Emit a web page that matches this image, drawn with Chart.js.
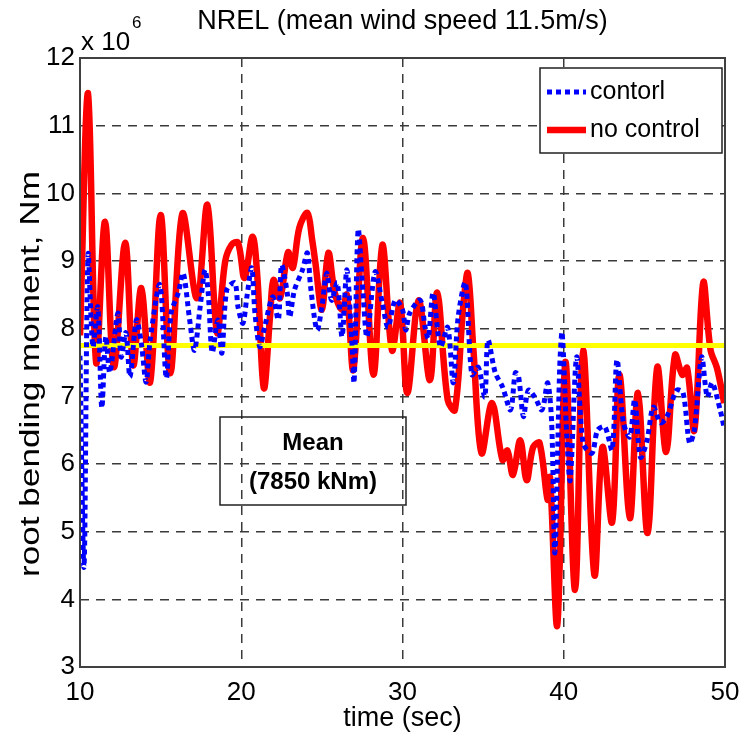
<!DOCTYPE html>
<html>
<head>
<meta charset="utf-8">
<script src="https://cdn.jsdelivr.net/npm/chart.js@4.4.1/dist/chart.umd.min.js"></script>
<style>
  html, body { margin: 0; padding: 0; background: #fff; }
  #wrap { width: 740px; height: 743px; }
</style>
</head>
<body>
<div id="wrap"><canvas id="chart" width="740" height="743"></canvas></div>
<script>
// values (time in sec, moment in 1e6 Nm)
const redTime = [10.0, 10.5, 11.0, 11.55, 12.1, 12.8, 13.3, 13.8, 14.35, 15.0, 15.6, 16.35,
    17.25, 17.9, 18.5, 19.0, 19.4, 19.8, 20.2, 20.7, 21.0, 21.4, 21.8, 22.0, 22.4, 22.9,
    23.2, 23.6, 24.1, 24.4, 24.6, 25.0, 25.4, 25.8, 26.25, 26.55, 26.95, 27.55, 28.2, 28.75,
    29.35, 29.85, 30.3, 31.0, 31.7, 32.15, 32.8, 33.25, 33.75, 34.05, 34.4, 34.9, 35.55,
    36.2, 36.5, 36.85, 37.3, 37.7, 38.1, 38.5, 39.0, 39.15, 39.6, 40.1, 40.7, 41.2, 41.9,
    42.4, 43.0, 43.45, 44.1, 44.6, 45.2, 45.8, 46.35, 46.9, 47.35, 47.65, 48.1, 48.65,
    49.1, 49.5, 49.95];
const redValue = [7.9, 11.48, 7.5, 9.58, 7.43, 9.27, 7.46, 8.6, 7.21, 9.68, 7.34, 9.7,
    8.45, 9.83, 7.94, 8.99, 9.24, 9.27, 8.75, 9.36, 8.76, 7.12, 8.23, 8.72, 8.45, 9.13,
    8.9, 9.49, 9.71, 9.31, 8.97, 8.28, 9.12, 8.53, 8.28, 8.5, 7.39, 9.34, 7.32, 9.24,
    7.68, 8.38, 7.05, 8.42, 7.24, 8.53, 6.95, 6.8, 8.28, 8.82, 7.68, 6.16, 6.9,
    6.06, 6.2, 5.84, 6.35, 5.76, 6.25, 6.31, 5.47, 5.8, 3.62, 7.51, 4.14, 7.68, 4.36,
    6.25, 5.14, 7.32, 5.2, 7.05, 4.98, 7.43, 6.18, 7.61, 7.32, 7.42, 6.5, 8.68,
    7.69, 7.42, 6.9];

const blueTime = [10.0, 10.25, 10.5, 10.8, 11.1, 11.35, 11.6, 11.85, 12.35, 12.55, 12.85,
    13.1, 13.5, 13.8, 14.1, 14.35, 14.95, 15.35, 15.65, 16.1, 16.4, 16.8, 17.1, 17.45,
    17.75, 17.95, 18.2, 18.55, 18.8, 19.1, 19.6, 19.8, 20.1, 20.35, 20.65, 20.85, 21.15,
    21.45, 21.95, 22.3, 22.5, 22.85, 23.0, 23.3, 23.8, 24.1, 24.3, 24.7, 25.0, 25.3, 25.6,
    25.95, 26.25, 26.55, 26.85, 27.0, 27.25, 27.55, 27.8, 28.3, 28.75, 29.1, 29.55, 30.0,
    30.2, 30.45, 31.1, 31.4, 31.6, 31.9, 32.35, 32.8, 33.15, 33.45, 33.9, 34.3, 34.7,
    35.1, 35.3, 35.75, 36.2, 36.7, 37.0, 37.2, 37.5, 37.8, 38.2, 38.65, 39.0, 39.25,
    39.45, 39.75, 39.9, 40.2, 40.4, 40.8, 41.2, 41.75, 42.1, 42.55, 43.0, 43.3, 43.7,
    44.1, 44.4, 44.75, 45.15, 45.55, 46.0, 46.4, 47.0, 47.4, 47.8, 48.1, 48.55, 48.9,
    49.2, 49.7, 49.95];
const blueValue = [7.6, 4.48, 9.09, 7.73, 8.32, 6.83, 7.88, 7.35, 8.23, 7.58, 7.94,
    7.29, 8.13, 7.79, 7.21, 7.83, 8.65, 7.27, 8.23, 8.53, 8.82, 8.13, 7.68, 8.32,
    8.87, 8.53, 7.65, 8.13, 7.64, 8.57, 8.68, 8.32, 8.08, 8.47, 8.9, 8.23, 7.73,
    8.02, 8.47, 8.13, 8.94, 8.53, 8.17, 8.57, 8.87, 9.12, 8.62, 7.98, 8.32, 8.82, 8.42,
    8.68, 7.88, 8.87, 7.83, 7.21, 9.46, 8.53, 7.88, 8.84, 8.38, 8.02, 8.42, 8.28,
    7.98, 8.23, 8.42, 8.02, 7.86, 8.53, 7.73, 8.02, 7.2, 8.17, 8.68, 7.32, 7.43,
    6.99, 7.83, 7.35, 7.14, 6.8, 7.35, 7.29, 6.7, 7.09, 6.99, 6.8, 7.2, 6.61,
    4.69, 7.43, 7.94, 6.36, 5.76, 7.58, 6.31, 6.16, 6.5, 6.55, 6.21, 7.54, 6.61,
    6.4, 6.95, 6.1, 6.33, 6.84, 6.61, 6.7, 7.09, 7.05, 6.31, 6.5, 7.58, 6.99,
    7.2, 6.8, 6.53];

const meanTime = [10, 50];
const meanValue = [7.75, 7.75];

const xTicks = [10, 20, 30, 40, 50];
const yTicks = [3, 4, 5, 6, 7, 8, 9, 10, 11, 12];

const FONT = "'Liberation Sans', Arial, Helvetica, sans-serif";

const toPoints = (xs, ys) => xs.map((x, i) => ({ x, y: ys[i] }));

// box, title, y label, exponent, legend and the mean annotation
const decorPlugin = {
    id: 'decor',
    afterDraw(chart) {
        const { ctx, chartArea: a } = chart;
        ctx.save();
        ctx.strokeStyle = '#404040';
        ctx.lineWidth = 2;
        ctx.strokeRect(a.left, a.top, a.right - a.left, a.bottom - a.top);

        ctx.fillStyle = '#000';
        ctx.textBaseline = 'middle';
        ctx.textAlign = 'center';
        ctx.font = '27px ' + FONT;
        ctx.fillText('NREL (mean wind speed 11.5m/s)', (a.left + a.right) / 2, 22);

        // y label, stretched along its length like the reference
        ctx.save();
        ctx.translate(31, 374);
        ctx.rotate(-Math.PI / 2);
        ctx.scale(1.3, 1.05);
        ctx.font = '27px ' + FONT;
        ctx.fillText('root bending moment, Nm', 0, 0);
        ctx.restore();

        ctx.textAlign = 'left';
        ctx.textBaseline = 'alphabetic';
        ctx.font = '26px ' + FONT;
        ctx.fillText('x 10', a.left + 1, 50);
        ctx.font = '17px ' + FONT;
        ctx.fillText('6', a.left + 52, 28);

        // legend
        const lx = 540, ly = 68, lw = 182, lh = 85;
        ctx.fillStyle = '#fff';
        ctx.fillRect(lx, ly, lw, lh);
        ctx.strokeStyle = '#202020';
        ctx.lineWidth = 1.5;
        ctx.strokeRect(lx, ly, lw, lh);
        const entries = [chart.data.datasets[0], chart.data.datasets[2]];
        entries.forEach((ds, i) => {
            const y = ly + 24 + i * 38;
            ctx.beginPath();
            ctx.strokeStyle = ds.borderColor;
            ctx.lineWidth = ds.borderWidth;
            ctx.setLineDash(ds.borderDash || []);
            ctx.moveTo(lx + 7, y);
            ctx.lineTo(lx + 46, y);
            ctx.stroke();
            ctx.setLineDash([]);
            ctx.fillStyle = '#000';
            ctx.font = '25px ' + FONT;
            ctx.textBaseline = 'middle';
            ctx.fillText(ds.label, lx + 50, y);
        });

        // mean annotation
        ctx.strokeStyle = '#202020';
        ctx.lineWidth = 1.5;
        ctx.strokeRect(220, 417, 186, 88);
        ctx.fillStyle = '#000';
        ctx.textAlign = 'center';
        ctx.font = 'bold 24px ' + FONT;
        ctx.fillText('Mean', 313, 443);
        ctx.fillText('(7850 kNm)', 313, 482);
        ctx.restore();
    },
};

const gridStyle = {
    color: '#3a3a3a',
    lineWidth: 1.5,
    drawTicks: false,
};

new Chart(document.getElementById('chart').getContext('2d'), {
    type: 'line',
    data: {
        datasets: [
            {
                label: 'contorl',
                data: toPoints(blueTime, blueValue),
                borderColor: '#0000ff',
                borderWidth: 5,
                borderDash: [5, 4],
                pointRadius: 0,
                tension: 0.3,
                fill: false,
            },
            {
                label: 'mean',
                data: toPoints(meanTime, meanValue),
                borderColor: '#ffff00',
                borderWidth: 5,
                pointRadius: 0,
                fill: false,
            },
            {
                label: 'no control',
                data: toPoints(redTime, redValue),
                borderColor: '#ff0000',
                borderWidth: 6.5,
                pointRadius: 0,
                tension: 0.35,
                fill: false,
            },
        ],
    },
    options: {
        responsive: false,
        animation: false,
        layout: { padding: { left: 0, top: 58, right: 15, bottom: 0 } },
        plugins: {
            legend: { display: false },
            tooltip: { enabled: false },
        },
        scales: {
            x: {
                type: 'linear',
                min: 10,
                max: 50,
                afterBuildTicks: axis => { axis.ticks = xTicks.map(v => ({ value: v })); },
                afterFit: axis => { axis.height = 76; axis.paddingLeft = 0; axis.paddingRight = 0; },
                grid: gridStyle,
                border: { display: false, dash: [9, 7] },
                ticks: { color: '#000', font: { family: FONT, size: 26 }, padding: 10, maxRotation: 0 },
                title: { display: true, text: 'time (sec)', color: '#000', font: { family: FONT, size: 27 }, padding: { top: 0, bottom: 8 } },
            },
            y: {
                min: 3,
                max: 12,
                afterBuildTicks: axis => { axis.ticks = yTicks.map(v => ({ value: v })); },
                afterFit: axis => { axis.width = 80; axis.paddingTop = 0; axis.paddingBottom = 0; },
                grid: gridStyle,
                border: { display: false, dash: [9, 7] },
                ticks: { color: '#000', font: { family: FONT, size: 26 }, padding: 5 },
            },
        },
    },
    plugins: [decorPlugin],
});
</script>
</body>
</html>
